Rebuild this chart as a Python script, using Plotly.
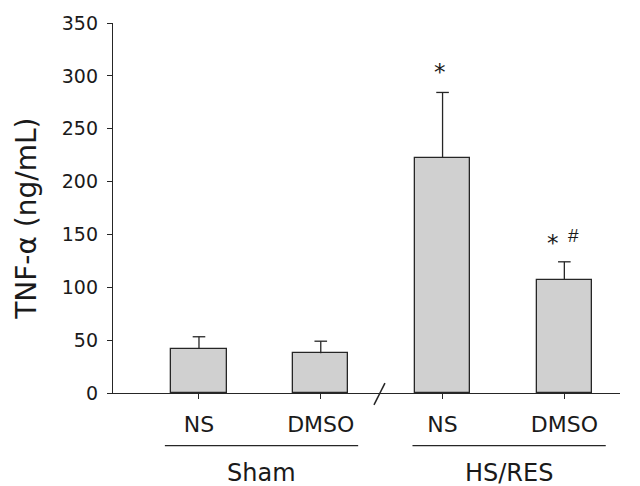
import plotly.graph_objects as go

# ---- data ----
categories = [0, 1, 2, 3]
cat_labels = ["NS", "DMSO", "NS", "DMSO"]
values = [42.0, 37.7, 222.3, 107.1]
errors = [11.2, 11.3, 62.0, 17.0]
y_ticks = [0, 50, 100, 150, 200, 250, 300, 350]

group_labels = ["Sham", "HS/RES"]
group_starts = [-0.28, 1.753]
group_ends = [1.307, 3.34]

sig_text = ["*", "*", "#"]
sig_x = [1.98, 2.905, 3.077]
sig_y = [304, 142, 149]

AX = "#262626"
FONT = "DejaVu Sans"

fig = go.Figure()
fig.add_trace(go.Bar(
    x=categories, y=values, width=0.454,
    marker=dict(color="#d0d0d0", line=dict(color=AX, width=1.3)),
    error_y=dict(type="data", array=errors, arrayminus=[0]*len(errors),
                 symmetric=False, color=AX, thickness=1.3, width=0),
    showlegend=False, hoverinfo="skip",
))
# caps at the top of the error bars
fig.add_trace(go.Scatter(
    x=categories, y=[v + e for v, e in zip(values, errors)],
    mode="markers", showlegend=False, hoverinfo="skip",
    marker=dict(symbol="line-ew", size=9, line=dict(color=AX, width=1.3)),
))

fig.update_layout(
    width=640, height=486,
    margin=dict(l=113, r=20, t=18, b=93),
    plot_bgcolor="white", paper_bgcolor="white",
    font=dict(family=FONT, color="#1a1a1a"),
    bargap=0,
)
fig.update_xaxes(
    range=[-0.706, 3.457], showgrid=False, zeroline=False,
    showline=True, linecolor=AX, linewidth=1.3,
    ticks="outside", ticklen=5, tickcolor=AX, tickwidth=1.3,
    tickvals=categories, ticktext=cat_labels,
    tickfont=dict(size=22, family=FONT), ticklabelstandoff=6,
)
fig.update_yaxes(
    range=[0, 350], showgrid=False, zeroline=False,
    showline=True, linecolor=AX, linewidth=1.3,
    ticks="outside", ticklen=5, tickcolor=AX, tickwidth=1.3,
    tickvals=y_ticks, tickfont=dict(size=19, family=FONT),
    ticklabelstandoff=5,
)

# y-axis title
fig.add_annotation(
    text="TNF-α (ng/mL)", xref="paper", yref="paper", x=0, y=0.4707,
    xanchor="center", yanchor="middle", xshift=-86, textangle=-90,
    showarrow=False, font=dict(size=28, family=FONT),
)

# group underlines and labels
for lab, s, e in zip(group_labels, group_starts, group_ends):
    fig.add_shape(type="line", xref="x", yref="paper", x0=s, x1=e,
                  y0=-0.142, y1=-0.142, line=dict(color=AX, width=1.3))
    fig.add_annotation(text=lab, xref="x", yref="paper", x=(s + e) / 2,
                       y=-0.216, xanchor="center", yanchor="middle",
                       showarrow=False, font=dict(size=24, family=FONT))

# axis break mark
fig.add_shape(type="line", xref="x", yref="paper", x0=1.437, x1=1.527,
              y0=-0.032, y1=0.0267, line=dict(color=AX, width=1.5))

# significance marks
for t, x, y in zip(sig_text, sig_x, sig_y):
    if t == "#":
        f = dict(size=19, family="Liberation Sans")
    else:
        f = dict(size=23, family=FONT)
    fig.add_annotation(text=t, xref="x", yref="y", x=x, y=y,
                       xanchor="center", yanchor="middle",
                       showarrow=False, font=f)

fig.write_html(
    "out.html",
    config={"displayModeBar": False},
    post_script="document.body.style.margin='0';document.body.style.overflow='hidden';",
)
